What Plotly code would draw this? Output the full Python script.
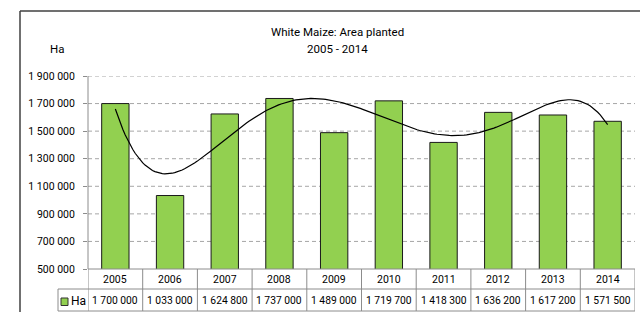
import numpy as np
import plotly.graph_objects as go

years = ["2005", "2006", "2007", "2008", "2009", "2010", "2011", "2012", "2013", "2014"]
area_ha = [1700000, 1033000, 1624800, 1737000, 1489000, 1719700, 1418300, 1636200, 1617200, 1571500]
tick_vals = [500000, 700000, 900000, 1100000, 1300000, 1500000, 1700000, 1900000]
tick_text = ["500 000", "700 000", "900 000", "1 100 000", "1 300 000", "1 500 000", "1 700 000", "1 900 000"]
value_text = ["1 700 000", "1 033 000", "1 624 800", "1 737 000", "1 489 000",
              "1 719 700", "1 418 300", "1 636 200", "1 617 200", "1 571 500"]
title_line1 = "White Maize: Area planted"
title_line2 = "2005 - 2014"
series_name = "Ha"
trend_order = 5  # polynomial trendline order, as in the spreadsheet chart

FONT = "Roboto"
GREEN = "#92D050"

W, H = 640, 312
L, R, T, B = 88, 5, 76, 43
pw, ph = W - L - R, H - T - B


def px2x(px):
    return (px - L) / pw


def py2y(py):
    return (H - B - py) / ph


x = list(range(len(years)))

fig = go.Figure()
fig.add_trace(go.Bar(x=x, y=area_ha, width=0.5, marker=dict(color=GREEN, line=dict(color="#1a1a1a", width=1)),
                     name=series_name, showlegend=False))
xt = np.linspace(0, len(years) - 1, 200)
coef = np.polyfit(np.array(x, float), np.array(area_ha, float), trend_order)
fig.add_trace(go.Scatter(x=xt, y=np.polyval(coef, xt), mode="lines", line=dict(color="#000000", width=1.2),
                         showlegend=False, hoverinfo="skip"))

shapes = []
annotations = []
grid_col = "#a6a6a6"
line_col = "#8c8c8c"

for v in tick_vals[1:]:
    shapes.append(dict(type="line", xref="paper", yref="y", x0=0, x1=1, y0=v, y1=v,
                       line=dict(color=grid_col, width=1, dash="4px,3px"), layer="below"))

y_top = 0
y_mid = py2y(289)
y_bot = py2y(311)
for yy in (y_mid, y_bot):
    shapes.append(dict(type="line", xref="paper", yref="paper", x0=px2x(58), x1=1, y0=yy, y1=yy,
                       line=dict(color=line_col, width=1)))
shapes.append(dict(type="line", xref="paper", yref="paper", x0=0, x1=1, y0=y_top, y1=y_top,
                   line=dict(color=line_col, width=1)))
for i in range(len(years) + 1):
    shapes.append(dict(type="line", xref="x", yref="paper", x0=i - 0.5, x1=i - 0.5, y0=y_top, y1=y_bot,
                       line=dict(color=line_col, width=1)))
shapes.append(dict(type="line", xref="paper", yref="paper", x0=px2x(58), x1=px2x(58), y0=y_mid, y1=y_bot,
                   line=dict(color=line_col, width=1)))
shapes.append(dict(type="line", xref="paper", yref="paper", x0=0, x1=0, y0=0, y1=1,
                   line=dict(color=line_col, width=1)))
shapes.append(dict(type="rect", xref="paper", yref="paper", x0=px2x(61), x1=px2x(68), y0=py2y(305.5), y1=py2y(298),
                   fillcolor=GREEN, line=dict(color="#333333", width=1)))
shapes.append(dict(type="line", xref="paper", yref="paper", x0=px2x(20), x1=px2x(700), y0=py2y(11), y1=py2y(11),
                   line=dict(color="#404040", width=1.5)))
shapes.append(dict(type="line", xref="paper", yref="paper", x0=px2x(20), x1=px2x(20), y0=py2y(11), y1=py2y(330),
                   line=dict(color="#404040", width=1.5)))


def ann(xv, yv, text, size, xref="paper", xanchor="center"):
    annotations.append(dict(x=xv, y=yv, xref=xref, yref="paper", text=text, showarrow=False,
                            xanchor=xanchor, yanchor="middle",
                            font=dict(family=FONT, size=size, color="#000")))


for i, (yr, vt) in enumerate(zip(years, value_text)):
    ann(i, py2y(279.5), yr, 10.5, xref="x")
    ann(i, py2y(300.5), vt, 10.3, xref="x")
ann(px2x(69), py2y(300.5), series_name, 12, xanchor="left")
ann(px2x(337), py2y(32), title_line1, 11.5)
ann(px2x(337), py2y(49), title_line2, 11.5)
ann(px2x(57), py2y(49), series_name, 11.5)

fig.update_layout(
    width=W, height=H,
    margin=dict(l=L, r=R, t=T, b=B, pad=0),
    paper_bgcolor="white", plot_bgcolor="white",
    bargap=0.5,
    xaxis=dict(range=[-0.5, len(years) - 0.5], showticklabels=False, showgrid=False, zeroline=False,
               showline=False, ticks=""),
    yaxis=dict(range=[500000, 1900000], tickvals=tick_vals, ticktext=tick_text, showgrid=False, zeroline=False,
               showline=False, ticks="outside", ticklen=4, tickcolor=line_col, ticklabelstandoff=6,
               tickfont=dict(family=FONT, size=10.5, color="#000")),
    shapes=shapes, annotations=annotations,
)

fig.write_html("out.html", config={"displayModeBar": False},
               post_script="document.body.style.margin='0px';")
